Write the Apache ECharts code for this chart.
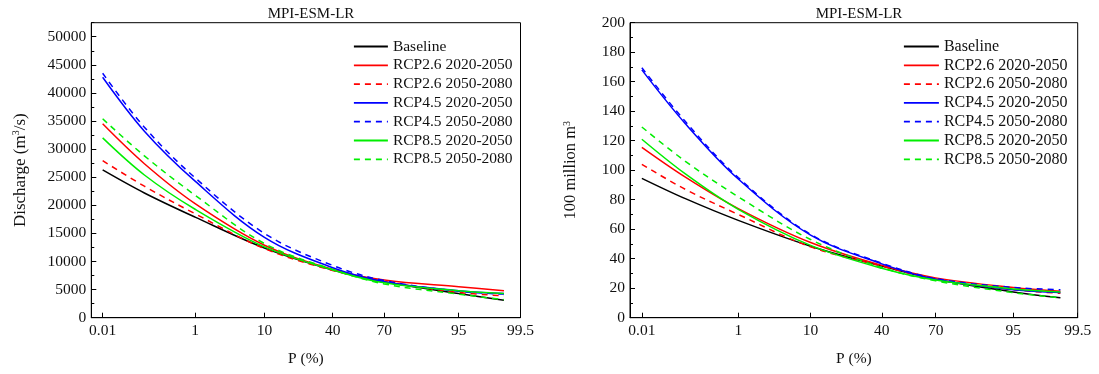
<!DOCTYPE html>
<html>
<head>
<meta charset="utf-8">
<script src="https://cdn.jsdelivr.net/npm/echarts@6/dist/echarts.min.js"></script>
<style>html,body{margin:0;padding:0;background:#fff}#c{width:1099px;height:374px}</style>
</head>
<body>
<div id="c"></div>
<script>
// ---- data ----
const seriesNames = ['Baseline','RCP2.6 2020-2050','RCP2.6 2050-2080','RCP4.5 2020-2050','RCP4.5 2050-2080','RCP8.5 2020-2050','RCP8.5 2050-2080'];
const seriesColors = ['#000000','#ff0000','#ff0000','#0000ff','#0000ff','#00ee00','#00ee00'];
const seriesDashed = [false,false,true,false,true,false,true];
const tickP = [0.01, 1, 10, 40, 70, 95, 99.5];
const tickLabels = ['0.01','1','10','40','70','95','99.5'];
const pValues = [0.01, 0.1, 1, 10, 40, 70, 95, 99];
// Discharge (m3/s)
const qBaseline = [26300, 22200, 17900, 12400, 8500, 6400, 4300, 3100];
const qRcp26a   = [34500, 27400, 20300, 12900, 8600, 6700, 5500, 4800];
const qRcp26b   = [27950, 23400, 18500, 12300, 8400, 6400, 4500, 3900];
const qRcp45a   = [42800, 33200, 24300, 14300, 8900, 6400, 4800, 4300];
const qRcp45b   = [43500, 33900, 24900, 15000, 9300, 6600, 4700, 4200];
const qRcp85a   = [32000, 25400, 19300, 12600, 8500, 6200, 4800, 4300];
const qRcp85b   = [35400, 28800, 21800, 13200, 8600, 6000, 4200, 3200];
// Volume (100 million m3)
const vBaseline = [94.5, 80.7, 66, 48.5, 35, 26, 17.5, 13.5];
const vRcp26a   = [115.5, 95.3, 74, 51, 35.5, 27, 20.5, 18];
const vRcp26b   = [104, 87, 70, 48, 35, 26, 19, 16.5];
const vRcp45a   = [168, 131.5, 94, 56, 36.5, 26, 19, 17];
const vRcp45b   = [169.5, 133, 95, 56.5, 37, 26.5, 20.5, 19];
const vRcp85a   = [121, 97.5, 73.5, 49, 33.5, 25.5, 19.5, 17.5];
const vRcp85b   = [129.3, 106, 82, 53, 34, 25, 17, 13.5];
const leftValues = [qBaseline, qRcp26a, qRcp26b, qRcp45a, qRcp45b, qRcp85a, qRcp85b];
const rightValues = [vBaseline, vRcp26a, vRcp26b, vRcp45a, vRcp45b, vRcp85a, vRcp85b];

// ---- normal probability scale (inverse normal CDF, Acklam) ----
function probit(p) {
  const a=[-3.969683028665376e+01,2.209460984245205e+02,-2.759285104469687e+02,1.383577518672690e+02,-3.066479806614716e+01,2.506628277459239e+00];
  const b=[-5.447609879822406e+01,1.615858368580409e+02,-1.556989798598866e+02,6.680131188771972e+01,-1.328068155288572e+01];
  const c=[-7.784894002430293e-03,-3.223964580411365e-01,-2.400758277161838e+00,-2.549671500802212e+00,4.374664141464968e+00,2.938163982698783e+00];
  const d=[7.784695709041462e-03,3.224671290700398e-01,2.445134137142996e+00,3.754408661907416e+00];
  const pl=0.02425, ph=1-pl; let q,r;
  if (p<pl){q=Math.sqrt(-2*Math.log(p));return (((((c[0]*q+c[1])*q+c[2])*q+c[3])*q+c[4])*q+c[5])/((((d[0]*q+d[1])*q+d[2])*q+d[3])*q+1);}
  if (p<=ph){q=p-0.5;r=q*q;return (((((a[0]*r+a[1])*r+a[2])*r+a[3])*r+a[4])*r+a[5])*q/(((((b[0]*r+b[1])*r+b[2])*r+b[3])*r+b[4])*r+1);}
  q=Math.sqrt(-2*Math.log(1-p));return -(((((c[0]*q+c[1])*q+c[2])*q+c[3])*q+c[4])*q+c[5])/((((d[0]*q+d[1])*q+d[2])*q+d[3])*q+1);
}
const z = p => probit(p/100);
const tickZ = tickP.map(z);
const xMin = -3.89, xMax = z(99.5);
const FONT = "'Liberation Serif','Times New Roman',serif";

function xAxisFor(gi){
  return {
    type:'value', gridIndex:gi, min:xMin, max:xMax,
    name:'P (%)', nameLocation:'middle', nameGap:33,
    nameTextStyle:{fontFamily:FONT,fontSize:15.5,color:'#111'},
    axisLine:{onZero:false,lineStyle:{color:'#000',width:1}},
    axisTick:{inside:true,length:5,customValues:tickZ,lineStyle:{color:'#000'}},
    axisLabel:{customValues:tickZ,margin:5,fontFamily:FONT,fontSize:15.5,color:'#111',
      formatter:function(v){let bi=0,bd=1e9;tickZ.forEach((t,i)=>{const dd=Math.abs(t-v);if(dd<bd){bd=dd;bi=i;}});return tickLabels[bi];}},
    splitLine:{show:false}
  };
}

const leftMajor = []; for (let v=0; v<=50000; v+=5000) leftMajor.push(v);
const leftMinor = []; for (let v=0; v<=52500; v+=2500) leftMinor.push(v);
const plain = v => String(Math.round(v));

const yAxes = [
  {type:'value', gridIndex:0, min:0, max:52500, interval:5000,
   name:'Discharge (m{sup|3}/s)', nameLocation:'middle', nameGap:62,
   nameTextStyle:{fontFamily:FONT,fontSize:17,color:'#111',rich:{sup:{fontFamily:FONT,fontSize:10,verticalAlign:'top',padding:[0,0,8,0]}}},
   axisLine:{onZero:false,lineStyle:{color:'#000'}},
   axisTick:{inside:true,length:5,customValues:leftMajor,lineStyle:{color:'#000'}},
   axisLabel:{customValues:leftMajor,margin:5,fontFamily:FONT,fontSize:15.5,color:'#111',formatter:plain},
   splitLine:{show:false}},
  {type:'value', gridIndex:0, min:0, max:52500, interval:2500, position:'left',
   axisLine:{show:false,onZero:false}, axisLabel:{show:false}, splitLine:{show:false},
   axisTick:{inside:true,length:3,customValues:leftMinor,lineStyle:{color:'#000'}}},
  {type:'value', gridIndex:1, min:0, max:200, interval:20,
   name:'100 million m{sup|3}', nameLocation:'middle', nameGap:50,
   nameTextStyle:{fontFamily:FONT,fontSize:16.5,color:'#111',rich:{sup:{fontFamily:FONT,fontSize:10,verticalAlign:'top',padding:[0,0,8,0]}}},
   axisLine:{onZero:false,lineStyle:{color:'#000'}},
   axisTick:{inside:true,length:5,lineStyle:{color:'#000'}},
   minorTick:{show:true,splitNumber:2,length:3,lineStyle:{color:'#000'}},
   axisLabel:{margin:5,fontFamily:FONT,fontSize:15.5,color:'#111',formatter:plain},
   splitLine:{show:false}}
];

const series = [];
[leftValues, rightValues].forEach((vals, gi) => {
  vals.forEach((arr, i) => {
    series.push({
      type:'line', name:seriesNames[i], xAxisIndex:gi, yAxisIndex: gi===0?0:2,
      data: pValues.map((p,k)=>[z(p), arr[k]]),
      smooth:0.35, showSymbol:false, symbol:'none', silent:true, animation:false,
      lineStyle:{color:seriesColors[i], width:1.5, type: seriesDashed[i]?[6,5]:'solid'},
      itemStyle:{color:seriesColors[i]}
    });
  });
});

function legendAt(left, w){
  return {
    orient:'vertical', left:left, top:38.5, padding:0, itemWidth:w, itemHeight:14, itemGap:2.8,
    data: seriesNames.map(n=>({name:n})),
    textStyle:{fontFamily:FONT,fontSize:left>600?16:15.5,color:'#111',lineHeight:14},
    itemStyle:{opacity:0, borderWidth:0},
    lineStyle:{width:1.8}, selectedMode:false
  };
}

const chart = echarts.init(document.getElementById('c'), null, {renderer:'canvas'});
chart.setOption({
  backgroundColor:'#fff',
  animation:false,
  title:[
    {text:'MPI-ESM-LR', left:306, top:2, textAlign:'center', textStyle:{fontFamily:FONT,fontSize:15,fontWeight:'normal',color:'#111'}},
    {text:'MPI-ESM-LR', left:854, top:2, textAlign:'center', textStyle:{fontFamily:FONT,fontSize:15,fontWeight:'normal',color:'#111'}}
  ],
  grid:[
    {left:91.3, right:578.5, top:22.7, bottom:56.3, show:true, borderColor:'#000', borderWidth:1, backgroundColor:'transparent'},
    {left:630, right:21.3, top:22.7, bottom:56.3, show:true, borderColor:'#000', borderWidth:1, backgroundColor:'transparent'}
  ],
  legend:[legendAt(353,34), legendAt(903,35)],
  xAxis:[xAxisFor(0), xAxisFor(1)],
  yAxis:yAxes,
  series:series
});
</script>
</body>
</html>
